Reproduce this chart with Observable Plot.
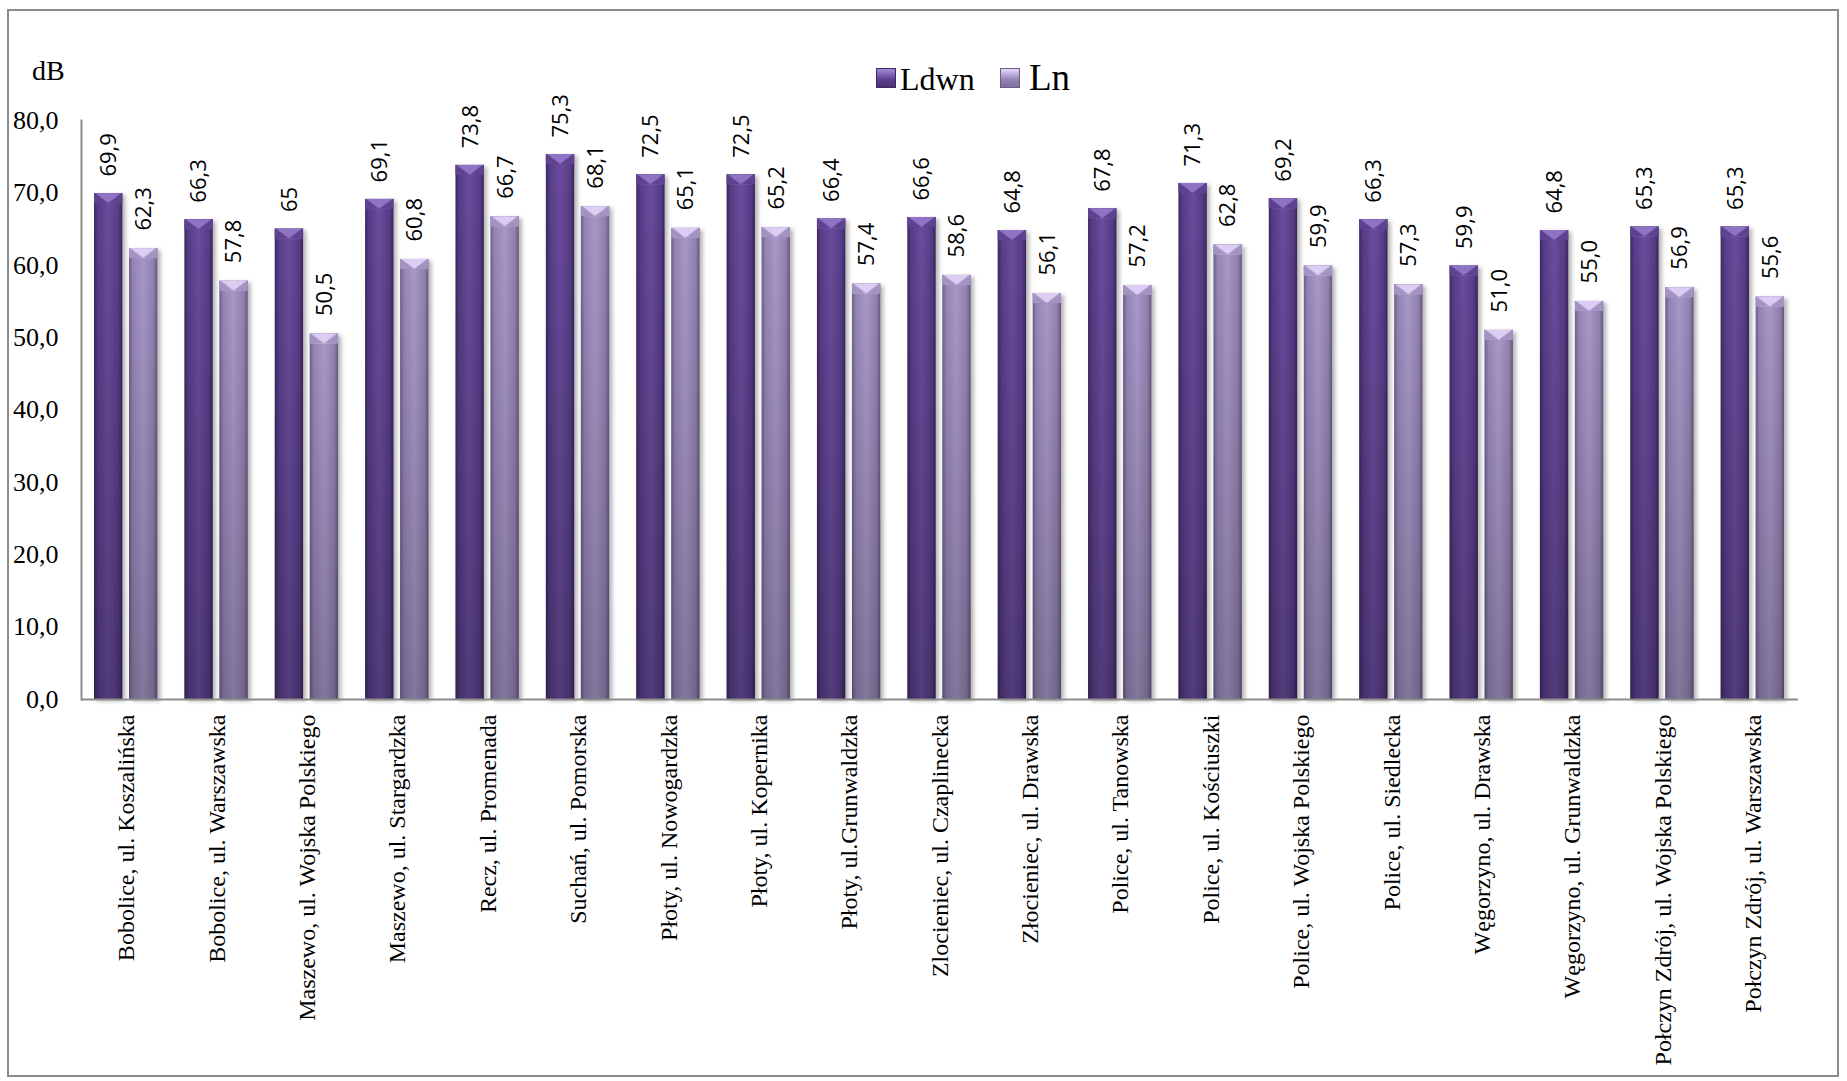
<!DOCTYPE html>
<html>
<head>
<meta charset="utf-8">
<script src="https://cdn.jsdelivr.net/npm/d3@7"></script>
<script src="https://cdn.jsdelivr.net/npm/@observablehq/plot@0.6"></script>
<style>
  html, body { margin: 0; padding: 0; background: #fff; }
  #wrap { position: relative; width: 1847px; height: 1081px; overflow: hidden; }
  #border { position: absolute; left: 7px; top: 9px; width: 1832px; height: 1068px; box-sizing: border-box; border: 2px solid #8c8c8c; }
  #chart { position: absolute; left: 0; top: 0; }
  .lbl { position: absolute; font-family: "Liberation Serif", "Times New Roman", serif; color: #000; line-height: 1; white-space: nowrap; }
  .sw { position: absolute; width: 20px; height: 20px; box-sizing: border-box; }
  g[fill="url(#gL)"], g[fill="url(#gN)"] { filter: url(#shadow); }
</style>
</head>
<body>
<svg width="0" height="0" style="position:absolute">
  <defs>
    <linearGradient id="gL" x1="0" y1="0" x2="1" y2="0">
      <stop offset="0" stop-color="#3c2860"/>
      <stop offset="0.14" stop-color="#573c88"/>
      <stop offset="0.5" stop-color="#6a4d9d"/>
      <stop offset="0.86" stop-color="#573c88"/>
      <stop offset="1" stop-color="#3a2659"/>
    </linearGradient>
    <linearGradient id="gN" x1="0" y1="0" x2="1" y2="0">
      <stop offset="0" stop-color="#6d5e8a"/>
      <stop offset="0.14" stop-color="#9585b6"/>
      <stop offset="0.5" stop-color="#a898c8"/>
      <stop offset="0.86" stop-color="#9181b0"/>
      <stop offset="1" stop-color="#66577f"/>
    </linearGradient>
    <linearGradient id="shade" x1="0" y1="0" x2="0" y2="1">
      <stop offset="0" stop-color="#000" stop-opacity="0"/>
      <stop offset="1" stop-color="#000" stop-opacity="0.22"/>
    </linearGradient>
    <pattern id="capL" patternContentUnits="objectBoundingBox" width="1" height="1">
      <rect width="1" height="1" fill="#5e4290"/>
      <polygon points="0.04,0 0.96,0 0.5,1" fill="#8f74c6"/>
    </pattern>
    <pattern id="capN" patternContentUnits="objectBoundingBox" width="1" height="1">
      <rect width="1" height="1" fill="#a393c3"/>
      <polygon points="0.04,0 0.96,0 0.5,1" fill="#dccdf3"/>
    </pattern>
    <filter id="shadow" x="-20%" y="-5%" width="150%" height="115%">
      <feDropShadow dx="3" dy="2" stdDeviation="2" flood-color="#000" flood-opacity="0.3"/>
    </filter>
  </defs>
</svg>
<div id="wrap">
  <div id="border"></div>
  <div id="chart"></div>
  <div class="lbl" style="left:32px; top:57px; font-size:28px;">dB</div>
  <div class="sw" style="left:876px; top:68px; background: linear-gradient(180deg, #a48ad6 0%, #7a5cb0 35%, #5a3f8a 60%, #4a3274 100%); border:1px solid #3e2a62;"></div>
  <div class="lbl" style="left:900px; top:63px; font-size:32px;">Ldwn</div>
  <div class="sw" style="left:1000px; top:68px; background: linear-gradient(180deg, #e6d9fb 0%, #b6a5d8 35%, #9383b4 60%, #7f6f9e 100%); border:1px solid #6b5c88;"></div>
  <div class="lbl" style="left:1029px; top:59px; font-size:37px;">Ln</div>
</div>
<script>
const categories = [
  "Bobolice, ul. Koszalińska",
  "Bobolice, ul. Warszawska",
  "Maszewo, ul. Wojska Polskiego",
  "Maszewo, ul. Stargardzka",
  "Recz, ul. Promenada",
  "Suchań, ul. Pomorska",
  "Płoty, ul. Nowogardzka",
  "Płoty, ul. Kopernika",
  "Płoty, ul.Grunwaldzka",
  "Zlocieniec, ul. Czaplinecka",
  "Złocieniec, ul. Drawska",
  "Police, ul. Tanowska",
  "Police, ul. Kościuszki",
  "Police, ul. Wojska Polskiego",
  "Police, ul. Siedlecka",
  "Węgorzyno, ul. Drawska",
  "Węgorzyno, ul. Grunwaldzka",
  "Połczyn Zdrój, ul. Wojska Polskiego",
  "Połczyn Zdrój, ul. Warszawska"
];
const ldwn = [69.9, 66.3, 65, 69.1, 73.8, 75.3, 72.5, 72.5, 66.4, 66.6, 64.8, 67.8, 71.3, 69.2, 66.3, 59.9, 64.8, 65.3, 65.3];
const ln   = [62.3, 57.8, 50.5, 60.8, 66.7, 68.1, 65.1, 65.2, 57.4, 58.6, 56.1, 57.2, 62.8, 59.9, 57.3, 51.0, 55.0, 56.9, 55.6];
const yTicks = [0, 10, 20, 30, 40, 50, 60, 70, 80];

const rows = categories.map((c, i) => ({cat: c, ldwn: ldwn[i], ln: ln[i]}));
const comma = v => String(v).replace(".", ",");
const fmtL = v => Number.isInteger(v) ? String(v) : comma(v.toFixed(1));
const fmtN = v => comma(v.toFixed(1));

const labelFont = {fontFamily: "Open Sans, Lato, sans-serif", fontSize: 22, fill: "#000"};

const plot = Plot.plot({
  width: 1847,
  height: 1081,
  marginLeft: 81,
  marginRight: 49,
  marginTop: 120,
  marginBottom: 382,
  style: {background: "transparent", overflow: "visible", color: "#000"},
  x: {domain: categories, padding: 0, round: false, label: null},
  y: {domain: [0, 80], label: null},
  marks: [
    Plot.barY(rows, {x: "cat", y: "ldwn", fill: "url(#gL)", insetLeft: 13, insetRight: 49}),
    Plot.barY(rows, {x: "cat", y: "ln", fill: "url(#gN)", insetLeft: 48, insetRight: 14}),
    Plot.barY(rows, {x: "cat", y: "ldwn", fill: "url(#shade)", insetLeft: 13, insetRight: 49}),
    Plot.barY(rows, {x: "cat", y: "ln", fill: "url(#shade)", insetLeft: 48, insetRight: 14}),
    Plot.barY(rows, {x: "cat", y1: "ldwn", y2: "ldwn", fill: "url(#capL)", insetLeft: 13, insetRight: 49, insetBottom: -10}),
    Plot.barY(rows, {x: "cat", y1: "ln", y2: "ln", fill: "url(#capN)", insetLeft: 48, insetRight: 14, insetBottom: -10}),
    Plot.text(rows, {x: "cat", y: "ldwn", text: d => fmtL(d.ldwn), rotate: -90, textAnchor: "start", lineAnchor: "middle", dx: -17.7, dy: -17, ...labelFont}),
    Plot.text(rows, {x: "cat", y: "ln", text: d => fmtN(d.ln), rotate: -90, textAnchor: "start", lineAnchor: "middle", dx: 17.3, dy: -18, ...labelFont}),
    Plot.ruleY([0], {stroke: "#8c8c8c", strokeWidth: 2}),
    Plot.frame({anchor: "left", stroke: "#8c8c8c", strokeWidth: 2}),
    Plot.axisY({ticks: yTicks, tickSize: 0, tickPadding: 23, tickFormat: d => comma(d.toFixed(1)), fontSize: 26, fontFamily: "Liberation Serif, Times New Roman, serif", fill: "#000", label: null}),
    Plot.axisX({tickSize: 0, tickPadding: 15, tickRotate: -90, textAnchor: "end", fontSize: 24, fontFamily: "Liberation Serif, Times New Roman, serif", fill: "#000", label: null})
  ]
});
document.getElementById("chart").appendChild(plot);
</script>
</body>
</html>
